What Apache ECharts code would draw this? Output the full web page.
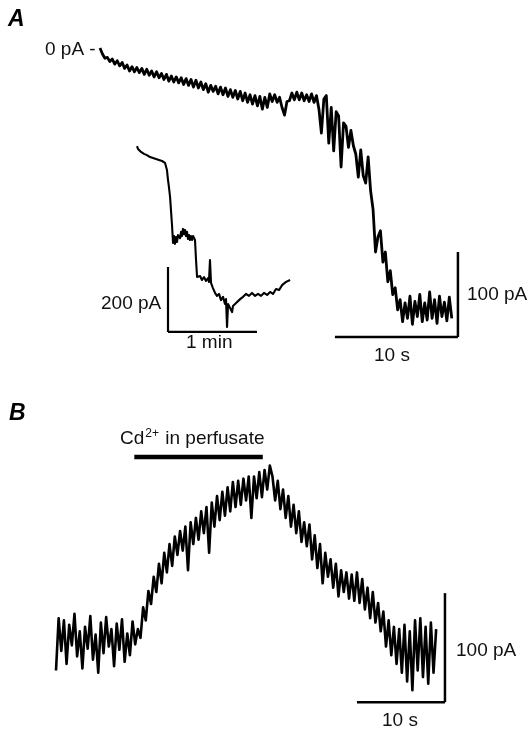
<!DOCTYPE html>
<html>
<head>
<meta charset="utf-8">
<script src="https://cdn.jsdelivr.net/npm/echarts@6/dist/echarts.min.js"></script>
<style>
html,body{margin:0;padding:0;background:#fff;}
#chart{width:529px;height:729px;}
</style>
</head>
<body>
<div id="chart"></div>
<script>
// ---------- Panel A, main trace (current in pA, sampled every dtA seconds) ----------
const dtA = 0.2;
const currentA = [
0,-7,-12,-11,-16,-13,-19,-15,-21,-17,
-24,-20,-27,-22,-28,-23,-29,-24,-31,-25,
-32,-27,-34,-28,-35,-30,-37,-31,-39,-33,
-40,-34,-41,-35,-43,-36,-44,-37,-46,-38,
-47,-40,-49,-42,-52,-44,-51,-45,-54,-46,
-55,-47,-57,-49,-58,-50,-60,-51,-62,-53,
-64,-55,-66,-56,-68,-57,-72,-58,-70,-54,
-63,-55,-64,-58,-70,-79,-63,-62,-53,-61,
-52,-61,-53,-62,-55,-63,-54,-64,-56,-72,
-100,-60,-56,-112,-70,-121,-75,-80,-140,-88,
-92,-117,-97,-115,-125,-152,-120,-150,-159,-128,
-168,-190,-240,-222,-215,-252,-240,-275,-262,-290,
-282,-308,-296,-322,-300,-318,-292,-325,-298,-316,
-290,-322,-300,-320,-287,-318,-296,-324,-292,-316,
-299,-321,-293,-318
];
// scale bars A: 10 s, 100 pA
const scaleA_h = [[19.1,-340],[29.1,-340]];
const scaleA_v = [[29.1,-340],[29.1,-240]];

// ---------- Panel A, inset (time in s, current in pA) ----------
const insetTime = [0,0.7,2.7,4.7,6.7,8.8,10.8,12.8,14.8,16.9,18.2,18.9,20.2,20.9,21.6,22.3,22.9,23.6,24.3,25.0,25.6,26.3,27.0,27.6,29.0,29.7,30.3,31.0,31.7,32.4,33.0,33.7,34.4,35.1,35.7,36.4,37.1,37.8,38.4,39.1,39.8,40.5,41.2,42.5,43.8,45.2,46.5,47.9,48.5,49.2,49.9,51.2,52.6,53.9,55.3,56.6,58.0,59.3,60.0,60.7,61.4,62.7,64.1,64.7,66.1,67.4,69.5,71.5,73.5,75.5,77.5,79.6,81.6,83.6,85.6,87.7,89.7,91.7,93.7,95.8,97.8,99.1,100.5,101.8,103.2];
const insetCurrent = [6,-3,-12,-18,-22,-28,-31,-34,-37,-40,-34,-46,-68,-98,-123,-151,-191,-237,-292,-271,-295,-274,-289,-268,-277,-258,-271,-249,-265,-252,-271,-258,-280,-268,-283,-271,-283,-271,-277,-283,-345,-397,-403,-394,-406,-397,-409,-400,-412,-345,-415,-431,-446,-455,-449,-468,-458,-480,-465,-551,-480,-492,-505,-486,-480,-474,-465,-458,-449,-455,-446,-455,-449,-455,-446,-452,-443,-449,-434,-437,-422,-428,-412,-418,-406];
// inset scale bars: 1 min, 200 pA
const scaleIn_h = [[20.9,-566],[80.9,-566]];
const scaleIn_v = [[20.9,-566],[20.9,-366]];

// ---------- Panel B (current in pA, sampled every dtB seconds) ----------
const dtB = 0.3;
const currentB = [
-28,20,-10,18,-22,14,-5,24,-15,8,-26,12,-8,22,-18,5,-30,16,-12,21,-6,10,-24,15,-9,19,-20,6,-14,17,-4,
10,2,30,18,45,33,58,44,70,52,
80,62,88,68,95,78,100,82,104,64,
108,88,112,92,118,98,122,80,126,104,
132,110,136,114,140,118,145,122,146,124,
148,128,150,112,150,130,154,131,156,138,
160,150,128,146,120,138,112,132,104,124,
98,118,90,108,86,106,74,96,66,88,
52,80,58,74,48,70,40,64,44,62,
38,60,36,62,34,56,28,48,20,44,
16,34,8,26,-6,18,-14,12,-22,10,
-30,14,-38,8,-46,18,-28,20,-34,12,
-40,16,-30,10
];
const cdBar = [[8.9,168],[23.5,168]];
const scaleB_h = [[34.2,-57],[44.2,-57]];
const scaleB_v = [[44.2,-57],[44.2,43]];

// ---------- labels ----------
const FONT = '"Liberation Sans", Arial, Helvetica, sans-serif';

const chart = echarts.init(document.getElementById('chart'), null, {renderer:'canvas'});

function trace(data, gi, w) {
  return {type:'line', xAxisIndex:gi, yAxisIndex:gi, data:data, symbol:'none', silent:true,
          lineStyle:{color:'#000', width:w, join:'round', cap:'butt'}, animation:false};
}
const seriesA = currentA.map((v,i)=>[i*dtA, v]);
const seriesIn = insetTime.map((t,i)=>[t, insetCurrent[i]]);
const seriesB = currentB.map((v,i)=>[i*dtB, v]);

const option = {
  animation:false,
  backgroundColor:'#fff',
  grid:[
    {left:100, top:31, width:369, height:340},
    {left:137, top:131.75, width:178, height:211.25},
    {left:56, top:449.25, width:396, height:261.6}
  ],
  xAxis:[
    {type:'value', gridIndex:0, min:0, max:30, show:false},
    {type:'value', gridIndex:1, min:0, max:120, show:false},
    {type:'value', gridIndex:2, min:0, max:45, show:false}
  ],
  yAxis:[
    {type:'value', gridIndex:0, min:-380, max:20, show:false},
    {type:'value', gridIndex:1, min:-600, max:50, show:false},
    {type:'value', gridIndex:2, min:-65, max:175, show:false}
  ],
  series:[
    trace(seriesA,0,2.8),
    trace(scaleA_h,0,2.5), trace(scaleA_v,0,2.5),
    trace(seriesIn,1,2.1),
    trace(scaleIn_h,1,2.2), trace(scaleIn_v,1,2.2),
    trace(seriesB,2,2.6),
    trace(cdBar,2,4.5),
    trace(scaleB_h,2,2.5), trace(scaleB_v,2,2.5)
  ],
  graphic:[
    {type:'text', left:8, top:8, silent:true, style:{text:'A', fill:'#000', font:'italic bold 23px '+FONT}},
    {type:'text', left:9, top:402, silent:true, style:{text:'B', fill:'#000', font:'italic bold 23px '+FONT}},
    {type:'text', left:45, top:40, silent:true, style:{text:'0 pA -', fill:'#111', font:'19px '+FONT}},
    {type:'text', left:467, top:285, silent:true, style:{text:'100 pA', fill:'#111', font:'19px '+FONT}},
    {type:'text', left:374, top:346, silent:true, style:{text:'10 s', fill:'#111', font:'19px '+FONT}},
    {type:'text', left:101, top:294, silent:true, style:{text:'200 pA', fill:'#111', font:'19px '+FONT}},
    {type:'text', left:186, top:333, silent:true, style:{text:'1 min', fill:'#111', font:'19px '+FONT}},
    {type:'text', left:456, top:641, silent:true, style:{text:'100 pA', fill:'#111', font:'19px '+FONT}},
    {type:'text', left:382, top:711, silent:true, style:{text:'10 s', fill:'#111', font:'19px '+FONT}},
    {type:'text', left:120, top:428, silent:true, style:{
      text:'{n|Cd}{s|2+}{n| in perfusate}', fill:'#111',
      rich:{n:{font:'19px '+FONT, fill:'#111', height:22}, s:{font:'12px '+FONT, fill:'#111', padding:[0,1,10,1], height:22}}
    }}
  ]
};
chart.setOption(option);
</script>
</body>
</html>
